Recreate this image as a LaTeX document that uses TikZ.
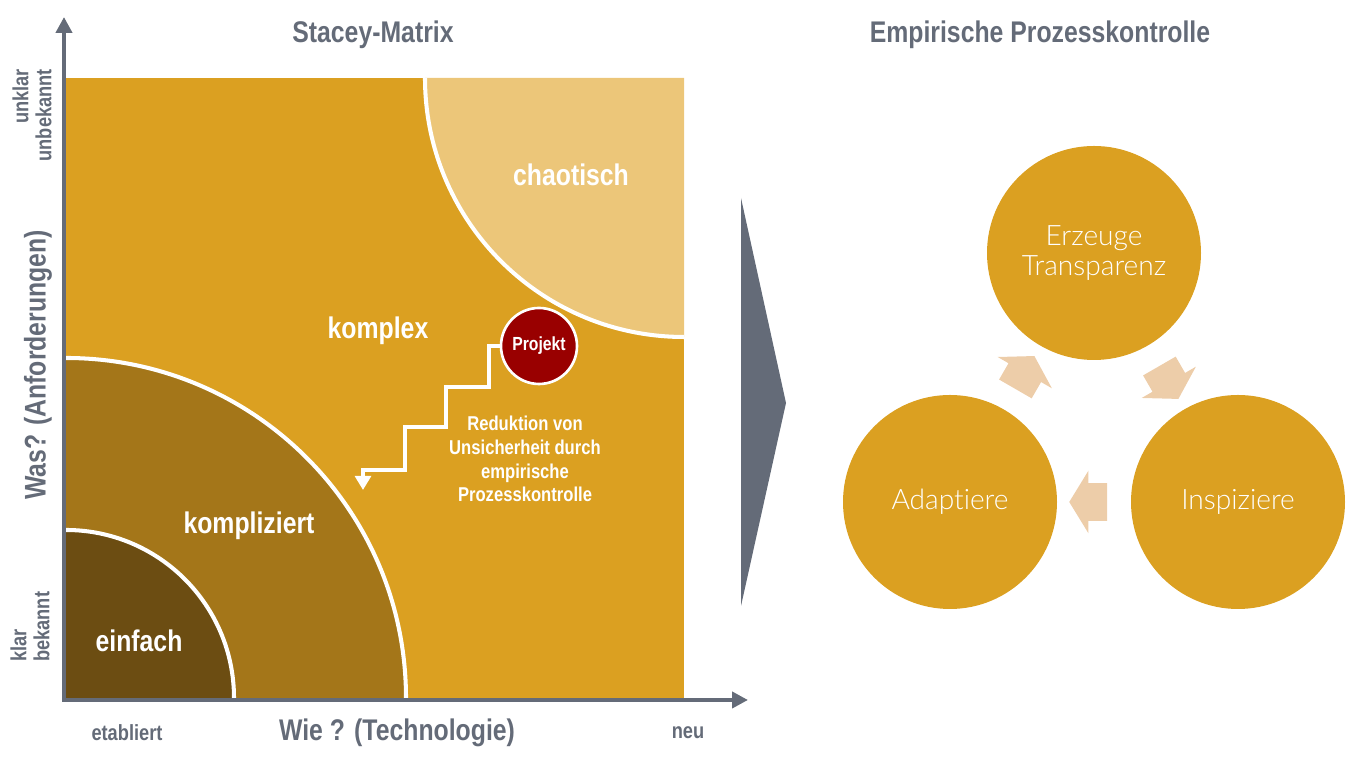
\documentclass[tikz,border=0pt]{standalone}
\usepackage{fontspec}
\setmainfont{Liberation Sans}
\newfontfamily\condfont[FakeStretch=0.83]{Liberation Sans}
\newfontfamily\thinfont[Ligatures={NoCommon}]{Lato Light}
\usetikzlibrary{arrows.meta,positioning,shapes.arrows,calc}
\definecolor{cgold}{HTML}{DBA021}
\definecolor{clight}{HTML}{ECC679}
\definecolor{cmid}{HTML}{A47619}
\definecolor{cdark}{HTML}{6C4D12}
\definecolor{cgray}{HTML}{646B78}
\definecolor{cred}{HTML}{990000}
\definecolor{carrow}{HTML}{EDCDA9}

\begin{document}
\begin{tikzpicture}[x=0.2mm,y=0.2mm,>={Triangle[width=9pt,length=9pt]},
  ttl/.style={font=\condfont\bfseries\fontsize{17}{20}\selectfont,text=cgray},
  sml/.style={font=\condfont\bfseries\fontsize{12.5}{13}\selectfont,text=cgray},
  region/.style={font=\condfont\bfseries\fontsize{17}{20}\selectfont,text=white},
  note/.style={font=\condfont\bfseries\fontsize{11.4}{13.6}\selectfont,text=white,align=center},
  cyc/.style={circle,fill=cgold,minimum size=42.8mm,inner sep=0pt,text=white,align=center,
    font=\thinfont\fontsize{16}{17}\selectfont},
  blockarr/.style={single arrow,fill=carrow,inner xsep=0pt,inner ysep=10.5pt,
    minimum height=7.6mm,single arrow head extend=7.1pt,single arrow tip angle=117}]
\useasboundingbox (0,0) rectangle (1349,768);

% titles
\node[ttl] (stacey) at (373,733) {Stacey-Matrix};
\node[ttl] (empir) at (1040,733) {Empirische Prozesskontrolle};

% matrix areas
\fill[cgold] (66,70) rectangle (684,690);
\fill[clight] (684,690) -- (425,690) arc[start angle=180,end angle=270,radius=259] -- cycle;
\draw[white,line width=2.3pt] (425,690) arc[start angle=180,end angle=270,radius=259];
\fill[cmid] (66,70) -- (406,70) arc[start angle=0,end angle=90,radius=340] -- cycle;
\draw[white,line width=2.3pt] (406,70) arc[start angle=0,end angle=90,radius=340];
\fill[cdark] (66,70) -- (234,70) arc[start angle=0,end angle=90,radius=168] -- cycle;
\draw[white,line width=2.3pt] (234,70) arc[start angle=0,end angle=90,radius=168];

\node[region] (chaos) at (571,593) {chaotisch};
\node[region] (komplex) at (378,437) {komplex};
\node[region] (kompl) at (249,242) {kompliziert};
\node[region] (einf) at (139,127) {einfach};

% projekt and stairs
\node[circle,fill=cred,draw=white,line width=1.5pt,minimum size=15.2mm,inner sep=0pt,
  font=\condfont\bfseries\fontsize{10.8}{12}\selectfont,text=white] (proj) at (539,422) {Projekt};
\coordinate (stairend) at (363,278);
\draw[white,line width=2.3pt,-{Triangle[width=9pt,length=8pt]}]
  (proj.west) -| (489,381) -| (446,341) -| (405,298) -| (stairend);
\node[note] (reduk) at (525,309)
  {Reduktion von\\Unsicherheit durch\\empirische\\Prozesskontrolle};

% axes
\coordinate (origin) at (64,68);
\coordinate (ytip) at (64,751);
\coordinate (xtip) at (748,68);
\draw[cgray,line width=2.8pt,<->] (ytip) -- (origin) -- (xtip);
\node[ttl] (wie) at (397,35) {Wie ? (Technologie)};
\node[sml] (etab) at (127,35) {etabliert};
\node[sml] (neu) at (688,35) {neu};
\node[ttl,rotate=90] (was) at (38,403) {Was? (Anforderungen)};
\node[sml,rotate=90,align=right,anchor=east] (unklar) at (32,705) {unklar\\unbekannt};
\node[sml,rotate=90,align=left,anchor=west] (klar) at (30,100) {klar\\bekannt};

% wedge
\fill[cgray] (741,570) -- (786,365) -- (741,162) -- cycle;

% cycle
\node[cyc] (erz) at (1094,515) {Erzeuge\\Transparenz};
\node[cyc] (ada) at (950,266) {Adaptiere};
\node[cyc] (ins) at (1238,266) {Inspiziere};
\node[blockarr,rotate=60] (a1) at ($(ada)!0.5!(erz)$) {};
\node[blockarr,rotate=-60] (a2) at ($(erz)!0.5!(ins)$) {};
\node[blockarr,rotate=180] (a3) at ($(ins)!0.5!(ada)$) {};
\end{tikzpicture}
\end{document}
